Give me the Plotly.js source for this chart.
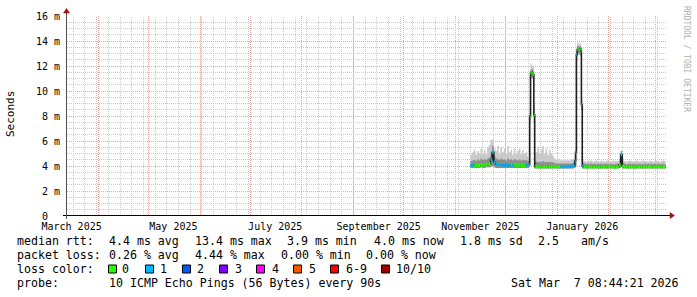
<!DOCTYPE html>
<html><head><meta charset="utf-8">
<script src="https://cdn.plot.ly/plotly-3.0.1.min.js"></script>
<style>html,body{margin:0;padding:0;background:#fff}#chart{width:697px;height:297px}</style>
</head><body><div id="chart"></div>
<script>
// ---- data (ms) ----
const dates = [
'2025-11-10','2025-11-11','2025-11-12','2025-11-13','2025-11-14','2025-11-15','2025-11-16','2025-11-17','2025-11-18','2025-11-19',
'2025-11-20','2025-11-21','2025-11-22','2025-11-23','2025-11-24','2025-11-25','2025-11-26','2025-11-27','2025-11-28','2025-11-29',
'2025-11-30','2025-12-01','2025-12-02','2025-12-03','2025-12-04','2025-12-05','2025-12-06','2025-12-07','2025-12-08','2025-12-09',
'2025-12-10','2025-12-11','2025-12-12','2025-12-13',
'2025-12-14 00:00','2025-12-14 12:00','2025-12-15 00:00','2025-12-15 12:00','2025-12-16 00:00','2025-12-16 12:00','2025-12-17 00:00','2025-12-17 12:00','2025-12-18 00:00','2025-12-18 12:00',
'2025-12-19','2025-12-20','2025-12-21','2025-12-22','2025-12-23','2025-12-24','2025-12-25','2025-12-26','2025-12-27','2025-12-28',
'2025-12-29','2025-12-30','2025-12-31','2026-01-01','2026-01-02','2026-01-03','2026-01-04','2026-01-05','2026-01-06','2026-01-07',
'2026-01-08','2026-01-09','2026-01-10',
'2026-01-11 00:00','2026-01-11 12:00','2026-01-12 00:00','2026-01-12 12:00','2026-01-13 00:00','2026-01-13 12:00','2026-01-14 00:00','2026-01-14 12:00','2026-01-15 00:00','2026-01-15 12:00','2026-01-16 00:00','2026-01-16 12:00',
'2026-01-17','2026-01-18','2026-01-19','2026-01-20','2026-01-21','2026-01-22','2026-01-23','2026-01-24','2026-01-25','2026-01-26',
'2026-01-27','2026-01-28','2026-01-29','2026-01-30','2026-01-31','2026-02-01','2026-02-02','2026-02-03','2026-02-04','2026-02-05',
'2026-02-06','2026-02-07','2026-02-08','2026-02-09','2026-02-10','2026-02-11','2026-02-12','2026-02-13','2026-02-14','2026-02-15',
'2026-02-16','2026-02-17','2026-02-18','2026-02-19','2026-02-20','2026-02-21','2026-02-22','2026-02-23','2026-02-24','2026-02-25',
'2026-02-26','2026-02-27','2026-02-28','2026-03-01','2026-03-02','2026-03-03','2026-03-04','2026-03-05','2026-03-06','2026-03-07'
];
const median = [
4.05,4.05,4.00,4.05,4.05,4.05,4.10,4.05,4.10,4.10,
4.15,4.20,4.50,5.10,4.30,4.15,4.10,4.10,4.10,4.05,
4.10,4.05,4.10,4.05,4.10,4.05,4.10,4.05,4.05,4.10,
4.05,4.05,4.05,4.10,
4.10,4.10,4.10,8.00,11.40,11.50,11.40,11.30,8.10,3.95,
3.95,3.95,3.95,3.90,3.95,3.95,3.95,3.90,3.95,3.95,
3.95,3.95,3.95,3.95,3.95,3.95,3.95,3.95,3.95,3.95,
3.95,4.00,4.00,
4.00,4.40,5.10,12.90,13.30,13.40,13.30,13.40,13.20,8.90,4.00,3.95,
3.95,3.90,3.95,3.95,3.95,3.90,3.95,3.95,3.95,3.90,
3.95,3.95,3.95,3.90,3.95,3.95,3.95,3.95,3.90,3.95,
3.95,4.10,4.90,4.00,3.95,3.95,3.90,3.95,3.95,3.95,
3.90,3.95,3.95,3.95,3.95,3.90,3.95,3.95,3.95,3.95,
3.95,3.90,3.95,3.95,3.95,3.95,3.90,3.95,3.95,4.00
];
const lostPings = [
1,1,0,0,0,0,0,0,0,0,
0,0,1,1,1,1,1,1,1,1,
1,1,1,1,0,1,0,0,0,0,
0,0,0,1,
1,1,1,0,0,0,0,0,0,0,
0,0,0,0,0,0,0,0,0,0,
0,0,0,0,0,1,1,1,1,1,
1,1,1,
1,1,1,1,0,0,0,0,0,1,1,1,
0,0,0,0,0,0,0,0,0,0,
0,0,0,0,0,0,0,0,0,0,
0,0,1,0,0,0,0,0,0,0,
0,0,0,0,0,0,0,0,0,0,
0,0,0,0,0,0,0,0,0,0
];
const pingMin = [
3.85,3.85,3.85,3.85,3.85,3.85,3.90,3.85,3.85,3.90,
3.90,3.90,3.95,4.00,3.90,3.85,3.85,3.85,3.85,3.85,
3.85,3.85,3.85,3.85,3.85,3.85,3.85,3.85,3.85,3.85,
3.85,3.85,3.85,3.85,
3.85,3.85,3.90,7.60,11.00,11.10,11.00,10.90,7.50,3.80,
3.80,3.80,3.80,3.80,3.80,3.80,3.80,3.80,3.80,3.80,
3.80,3.80,3.80,3.80,3.80,3.80,3.80,3.80,3.80,3.80,
3.80,3.80,3.80,
3.85,3.90,4.00,12.40,12.90,13.00,12.90,13.00,12.80,8.50,3.80,3.80,
3.80,3.80,3.80,3.80,3.80,3.80,3.80,3.80,3.80,3.80,
3.80,3.80,3.80,3.80,3.80,3.80,3.80,3.80,3.80,3.80,
3.80,3.85,3.95,3.80,3.80,3.80,3.80,3.80,3.80,3.80,
3.80,3.80,3.80,3.80,3.80,3.80,3.80,3.80,3.80,3.80,
3.80,3.80,3.80,3.80,3.80,3.80,3.80,3.80,3.80,3.80
];
const pingMid = [
4.40,4.45,4.50,4.40,4.55,4.45,4.60,4.50,4.55,4.50,
4.60,4.70,5.00,5.60,4.80,4.60,4.55,4.50,4.60,4.50,
4.55,4.45,4.60,4.50,4.55,4.45,4.55,4.50,4.45,4.55,
4.45,4.50,4.45,4.50,
4.40,4.40,4.40,8.20,11.70,11.80,11.70,11.60,8.40,4.40,
4.35,4.30,4.35,4.30,4.40,4.30,4.35,4.30,4.35,4.30,
4.30,4.25,4.20,4.20,4.20,4.20,4.20,4.20,4.20,4.20,
4.20,4.20,4.25,
4.25,4.60,5.30,13.20,13.60,13.60,13.50,13.60,13.50,9.20,4.30,4.25,
4.20,4.15,4.20,4.15,4.20,4.15,4.20,4.15,4.20,4.15,
4.20,4.15,4.20,4.15,4.20,4.15,4.20,4.15,4.15,4.20,
4.15,4.30,5.20,4.25,4.20,4.15,4.15,4.20,4.15,4.20,
4.15,4.20,4.15,4.20,4.15,4.15,4.20,4.15,4.20,4.15,
4.20,4.15,4.20,4.15,4.20,4.15,4.15,4.20,4.15,4.20
];
const pingMax = [
4.90,5.10,5.30,4.90,5.20,5.00,5.40,5.00,5.30,4.95,
5.50,5.70,6.10,6.10,5.40,5.20,5.60,5.00,5.50,5.10,
5.40,5.00,5.60,5.10,5.30,4.90,5.40,5.00,5.20,5.40,
4.95,5.30,5.00,5.10,
4.80,4.70,4.60,8.60,12.20,12.10,12.00,11.90,8.80,5.00,
5.10,5.50,5.00,5.30,5.60,5.00,5.40,4.90,5.30,5.00,
4.80,4.60,4.50,4.55,4.45,4.50,4.45,4.50,4.45,4.50,
4.45,4.50,4.55,
4.50,4.90,5.60,13.50,13.90,13.80,13.80,13.90,13.70,9.50,4.50,4.45,
4.40,4.35,4.45,4.40,4.45,4.35,4.40,4.45,4.40,4.35,
4.45,4.40,4.35,4.40,4.45,4.40,4.35,4.45,4.40,4.40,
4.40,4.55,5.00,4.45,4.40,4.35,4.40,4.45,4.40,4.35,
4.40,4.45,4.40,4.35,4.40,4.45,4.40,4.40,4.35,4.45,
4.40,4.35,4.40,4.45,4.40,4.35,4.40,4.45,4.40,4.40
];

const lossLabels = ['0','1','2','3','4','5','6-9','10/10'];
const lossColors = ['#26ff00','#00b8ff','#0059ff','#7e00ff','#ff00ff','#ff5500','#ff0000','#a10000'];

const yTickVals = [0,2,4,6,8,10,12,14,16];
const yTickText = ['0\u00a0\u00a0','2 m','4 m','6 m','8 m','10 m','12 m','14 m','16 m'];
const xLabelDates = ['2025-03-16','2025-05-16','2025-07-16','2025-09-16','2025-11-16','2026-01-16'];
const xLabelText = ['March 2025','May 2025','July 2025','September 2025','November 2025','January 2026'];

const rttLine = [['median rtt:', 16], ['4.4 ms avg', 107.3], ['13.4 ms max', 193.3], ['3.9 ms min', 286], ['4.0 ms now', 372.3], ['1.8 ms sd', 458.3], ['2.5', 536.7], ['am/s', 579.3]];
const lossLine = [['packet loss:', 16], ['0.26 % avg', 107.3], ['4.44 % max', 193.3], ['0.00 % min', 279.3], ['0.00 % now', 365]];
const colorLine = [['loss color:', 16]];
const probeLine = [['probe:', 16], ['10 ICMP Echo Pings (56 Bytes) every 90s', 107.3]];
const stampText = 'Sat Mar  7 08:44:21 2026';

// ---- geometry helpers ----
const W = 697, H = 297, L = 67, R = 31, T = 16, B = 81;
const pw = W - L - R, ph = H - T - B;
const px = x => (x - L) / pw;
const py = y => (H - B - y) / ph;
const nb = s => s.replace(/ /g, '\u00a0');
const MONO = 'DejaVu Sans Mono, monospace';
const FS = 11.6;

const xRange = ['2025-03-13 05:45', '2026-03-07 04:30'];
const yRange = [0, 16];
const dayMs = 86400000;
const toDate = s => new Date(s.replace(' ', 'T') + (s.length > 10 ? ':00Z' : 'T00:00:00Z'));
const fmt = d => d.toISOString().slice(0, 19).replace('T', ' ');
const tA = toDate(xRange[0]).getTime(), tB = toDate(xRange[1]).getTime();
const snapT = t => { const p = L + (t - tA) / (tB - tA) * pw; const c = Math.round(p - 0.5) + 0.5; return tA + (c - L) / pw * (tB - tA); };
const snapV = v => { const p = (H - B) - v / 16 * ph; const c = Math.round(p - 0.5) + 0.5; return ((H - B) - c) / ph * 16; };

// ---- minor grid traces (rrdtool style, dotted 1:1) ----
const traces = [];
const MINOR = '#cccccc', MAJOR = 'rgba(238,100,100,0.6)';
const weekT = []; for (let t = toDate('2025-03-17').getTime(); t < tB; t += 7 * dayMs) weekT.push(t);
const monthT = []; for (let yy = 2025, m = 3; ; m++) { if (m > 11) { m = 0; yy++; } const t = Date.UTC(yy, m, 1); if (t > tB) break; monthT.push(fmt(new Date(t))); }
const minorV = []; for (let k = 1; k <= 32; k++) { if (k % 4 !== 0) minorV.push(k / 2); }
(() => { const xs = [], ys = []; weekT.forEach(t => { const s = fmt(new Date(snapT(t))); xs.push(s, s, null); ys.push(0, 16, null); });
  traces.push({x: xs, y: ys, mode: 'lines', line: {color: MINOR, width: 1, dash: '1px,1px'}, hoverinfo: 'skip', showlegend: false}); })();
(() => { const xs = [], ys = []; minorV.forEach(v => { const s = snapV(v); xs.push(xRange[0], xRange[1], null); ys.push(s, s, null); });
  traces.push({x: xs, y: ys, mode: 'lines', line: {color: MINOR, width: 1, dash: '1px,1px'}, hoverinfo: 'skip', showlegend: false}); })();

// ---- smoke + median ----
traces.push({x: dates, y: pingMin, mode: 'lines', line: {width: 0, shape: 'hv'}, hoverinfo: 'skip', showlegend: false});
traces.push({x: dates, y: pingMax, mode: 'lines', line: {width: 0, shape: 'hv'}, fill: 'tonexty', fillcolor: '#cacaca', hoverinfo: 'skip', showlegend: false});
traces.push({x: dates, y: pingMin, mode: 'lines', line: {width: 0, shape: 'hv'}, hoverinfo: 'skip', showlegend: false});
traces.push({x: dates, y: pingMid, mode: 'lines', line: {width: 0, shape: 'hv'}, fill: 'tonexty', fillcolor: '#8e8e8e', hoverinfo: 'skip', showlegend: false});
traces.push({x: dates, y: median, mode: 'lines', line: {width: 1.6, shape: 'hv', color: '#202020'}, hoverinfo: 'skip', showlegend: false});

lossColors.forEach((c, li) => {
  const xs = [], ys = [];
  for (let i = 0; i < dates.length; i++) {
    const lv = lostPings[i] >= 10 ? 7 : (lostPings[i] >= 6 ? 6 : lostPings[i]);
    if (lv !== li) continue;
    const t0 = toDate(dates[i]);
    const t1 = i + 1 < dates.length ? toDate(dates[i+1]) : new Date(t0.getTime() + dayMs / 4);
    xs.push(fmt(t0), fmt(t1), null); ys.push(median[i], median[i], null);
  }
  if (xs.length) traces.push({x: xs, y: ys, mode: 'lines', line: {width: 3, color: c}, hoverinfo: 'skip', showlegend: false, connectgaps: false});
});
traces.push({x: xRange, y: [null, null], xaxis: 'x2', mode: 'lines', hoverinfo: 'skip', showlegend: false});

// ---- axes + arrows + legend ----
const shapes = [];
shapes.push({type: 'line', xref: 'paper', yref: 'paper', x0: px(63), x1: px(671), y0: py(215.5), y1: py(215.5), line: {color: '#000', width: 1}});
shapes.push({type: 'path', xref: 'paper', yref: 'paper', path: `M ${px(670)} ${py(212.5)} L ${px(674.5)} ${py(215.5)} L ${px(670)} ${py(218.5)} Z`, fillcolor: '#a01010', line: {color: '#a01010', width: 0.5}});
shapes.push({type: 'line', xref: 'paper', yref: 'paper', x0: px(66.5), x1: px(66.5), y0: py(219), y1: py(12), line: {color: '#505050', width: 1}});
shapes.push({type: 'path', xref: 'paper', yref: 'paper', path: `M ${px(63.5)} ${py(13)} L ${px(66.5)} ${py(8.5)} L ${px(69.5)} ${py(13)} Z`, fillcolor: '#a01010', line: {color: '#a01010', width: 0.5}});

const swX = [108.5, 145.5, 182.5, 219.5, 256.5, 293.5, 330.5, 381.5];
const swLabelX = [120, 157.5, 195, 232.5, 270, 306.5, 343.5, 393.5];
lossColors.forEach((c, i) => {
  shapes.push({type: 'rect', xref: 'paper', yref: 'paper', x0: px(swX[i]), x1: px(swX[i] + 8), y0: py(265), y1: py(273), fillcolor: c, line: {color: '#000', width: 1}});
});

const annotations = [];
const lineY = [240.7, 255, 269, 283.3];
const addText = (t, x, y) => annotations.push({text: nb(t), xref: 'paper', yref: 'paper', x: px(x - 0.6), y: py(y), xanchor: 'left', yanchor: 'middle', showarrow: false, font: {family: MONO, size: FS, color: '#000'}});
[rttLine, lossLine, colorLine, probeLine].forEach((line, i) => line.forEach(([t, x]) => addText(t, x, lineY[i])));
lossLabels.forEach((t, i) => addText(t, swLabelX[i] + 0.6, lineY[2]));
annotations.push({text: nb(stampText), xref: 'paper', yref: 'paper', x: px(681.5), y: py(lineY[3]), xanchor: 'right', yanchor: 'middle', showarrow: false, font: {family: MONO, size: FS, color: '#000'}});
annotations.push({text: 'Seconds', xref: 'paper', yref: 'paper', x: px(10), y: py(114), textangle: -90, xanchor: 'center', yanchor: 'middle', showarrow: false, font: {family: MONO, size: 11, color: '#000'}});
annotations.push({text: nb('RRDTOOL / TOBI OETIKER'), xref: 'paper', yref: 'paper', x: px(686), y: py(59), textangle: 90, xanchor: 'center', yanchor: 'middle', showarrow: false, font: {family: MONO, size: 8, color: '#b0b0b0'}});

const layout = {
  width: W, height: H,
  margin: {l: L, r: R, t: T, b: B, pad: 0},
  paper_bgcolor: '#fff', plot_bgcolor: '#fff',
  showlegend: false,
  xaxis: {
    type: 'date', range: xRange, tickmode: 'array', tickvals: monthT, showticklabels: false, ticks: '',
    showgrid: true, gridcolor: MAJOR, griddash: '1px,1px', gridwidth: 1,
    zeroline: false, showline: false, fixedrange: true
  },
  xaxis2: {
    type: 'date', overlaying: 'x', anchor: 'y', side: 'bottom', range: xRange,
    tickmode: 'array', tickvals: xLabelDates, ticktext: xLabelText, ticks: '',
    showgrid: false, zeroline: false, showline: false,
    tickfont: {family: MONO, size: 10, color: '#000'}, ticklabelstandoff: 3
  },
  yaxis: {
    range: yRange, tickmode: 'array', tickvals: yTickVals, ticktext: yTickText,
    showgrid: true, gridcolor: MAJOR, griddash: '1px,1px', gridwidth: 1,
    ticks: '', zeroline: false, showline: false,
    tickfont: {family: MONO, size: 10, color: '#000'}, ticklabelstandoff: 6, fixedrange: true
  },
  shapes, annotations
};

Plotly.newPlot('chart', traces, layout, {staticPlot: true, displayModeBar: false});
</script>
</body></html>
